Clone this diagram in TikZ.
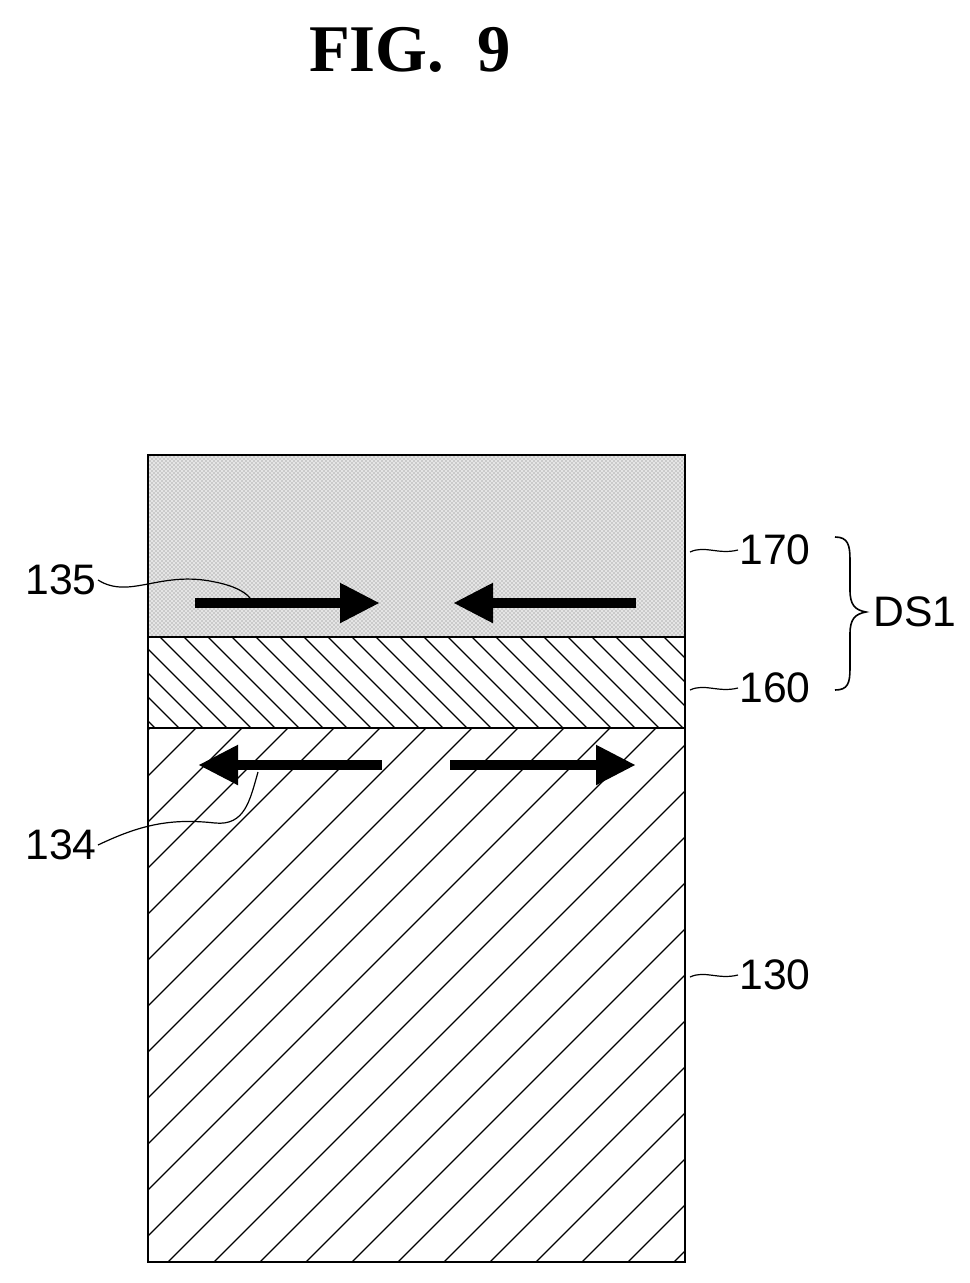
\documentclass[tikz,border=0pt]{standalone}
\usepackage{fontspec}
\setmainfont{Liberation Sans}
\newfontfamily\figfont{Liberation Serif}
\usetikzlibrary{arrows.meta,patterns}
\tikzset{every picture/.style={line width=0.75pt}}
\tikzset{
  lbl/.style={inner sep=0.75pt,font=\fontsize{32}{36}\selectfont},
  fatarrow/.style={line width=7.5pt,-{Triangle[length=30pt,width=28pt]}}
}
\begin{document}
\begin{tikzpicture}[x=0.75pt,y=0.75pt,yscale=-1,xscale=1]
\useasboundingbox (0,0) rectangle (970,1283);

% Title
\node (title) at (410,50) {\figfont\bfseries\fontsize{50}{56}\selectfont FIG.\ \ 9};

% Layer 170 (dotted)
\fill [black!10] (148,455) rectangle (685,637);
\fill [pattern=crosshatch dots,pattern color=black!55] (148,455) rectangle (685,637);
% Layer 160 (hatch)
\begin{scope}
\clip (148,637) rectangle (685,728);
\foreach \x in {40,64,...,700} \draw [line width=1pt] (\x,637) -- (\x+91,728);
\end{scope}
% Layer 130 (hatch)
\begin{scope}
\clip (148,728) rectangle (685,1262);
\foreach \x in {-430,-384,...,700} \draw [line width=1pt] (\x,1262) -- (\x+534,728);
\end{scope}
% Outlines
\draw [line width=1.2pt] (148,455) rectangle (685,1262);
\draw [line width=1.2pt] (148,637) -- (685,637);
\draw [line width=1.2pt] (148,728) -- (685,728);

% Arrows
\coordinate (a1) at (195,603); \coordinate (b1) at (380,603);
\coordinate (a2) at (636,603); \coordinate (b2) at (453,603);
\coordinate (a3) at (382,765); \coordinate (b3) at (198,765);
\coordinate (a4) at (450,765); \coordinate (b4) at (636,765);
\draw [fatarrow] (a1) -- (b1);
\draw [fatarrow] (a2) -- (b2);
\draw [fatarrow] (a3) -- (b3);
\draw [fatarrow] (a4) -- (b4);

% Labels
\node (l170) [lbl,anchor=west] at (738,550) {170};
\node (l160) [lbl,anchor=west] at (738,688) {160};
\node (l130) [lbl,anchor=west] at (738,975) {130};
\node (l135) [lbl,anchor=east] at (98,580) {135};
\node (l134) [lbl,anchor=east] at (98,845) {134};
\node (lds) [lbl,anchor=west] at (872,612) {DS1};

% Leaders
\draw [line width=0.9pt] (690,552) .. controls (705,545) and (718,555) .. (l170.west);
\draw [line width=0.9pt] (690,690) .. controls (705,683) and (718,693) .. (l160.west);
\draw [line width=0.9pt] (690,977) .. controls (705,970) and (718,980) .. (l130.west);
\draw [line width=0.9pt] (l135.east) .. controls (130,600) and (160,570) .. (215,582) .. controls (235,586) and (245,592) .. (250,598);
\draw [line width=0.9pt] (l134.east) .. controls (140,825) and (170,818) .. (215,823) .. controls (245,826) and (250,800) .. (258,772);

% Brace
\draw [line width=1.2pt] (835,537) .. controls (848,537) and (850,545) .. (850,560) -- (850,590) .. controls (850,605) and (855,610) .. (866,612) .. controls (855,614) and (850,619) .. (850,634) -- (850,668) .. controls (850,683) and (848,690) .. (835,690);
\end{tikzpicture}
\end{document}
